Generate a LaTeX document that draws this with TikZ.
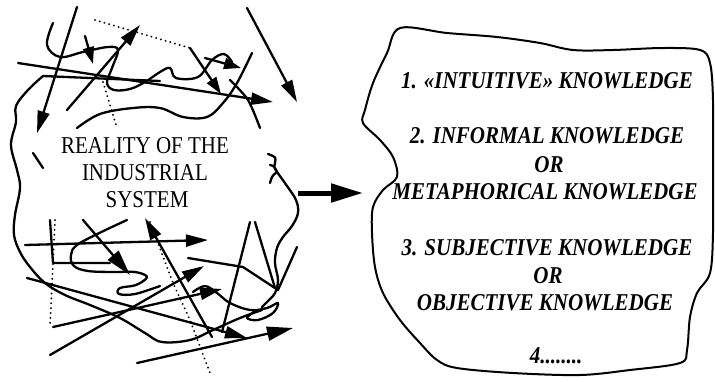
\documentclass[tikz,border=0pt]{standalone}
\usepackage{fontspec}
\usepackage{graphicx}
\setmainfont{Liberation Serif}
\usetikzlibrary{arrows.meta}
\newcommand\tallbox[1]{\scalebox{1}[1.15]{#1}}
\tikzset{
  sk/.style={line width=2.3pt, line cap=round, line join=round},
  arr/.style={sk, -{Triangle[length=22pt,width=12pt]}},
  bigarr/.style={sk, -{Triangle[length=26pt,width=14pt]}},
  smallarr/.style={sk, -{Triangle[length=17pt,width=11pt]}},
  dots/.style={line width=2pt, line cap=round, dash pattern=on 0.1pt off 4.8pt},
  blob/.style={line width=2pt, line join=round},
  leftlbl/.style={anchor=base, inner sep=0pt, font=\fontsize{21}{25}\selectfont},
  rightlbl/.style={anchor=base, inner sep=0pt, font=\bfseries\itshape\fontsize{21}{25}\selectfont},
}
\begin{document}
\begin{tikzpicture}[x=1pt,y=-1pt]
\useasboundingbox (0,0) rectangle (715,381);

% ---------- left scribble: reality of the industrial system ----------
% outline of the left blob
\draw[sk] plot[smooth, tension=0.6] coordinates {(43,76) (28,90) (16,106) (16,122) (11,145) (17,170) (20,188) (15,215) (14,235) (20,252) (30,267) (45,283) (65,295) (90,305) (120,318) (145,333) (162,342) (190,340) (213,330) (240,318) (262,310)};
\draw[sk] plot[smooth, tension=0.6] coordinates {(277,172) (287,186) (296,200) (298,213) (292,226) (283,237) (277,248) (275,263) (278,280) (275,293) (267,302) (262,307)};
\draw[sk] plot[smooth] coordinates {(230,80) (248,100) (260,128)};
% claw squiggle
\draw[sk] (268,154) .. controls (276,157) .. (275,163) .. controls (274,167) .. (277,172);
\draw[sk] (270,165) .. controls (274,166) .. (277,172);
\draw[sk] (270,183) .. controls (272,176) .. (277,172);
% small dash
\draw[sk] (33,153) -- (43,168);

% top strokes
\coordinate (s1a) at (77,7);   \coordinate (s1b) at (37,133);
\draw[arr] (s1a) -- (s1b);
\draw[sk] plot[smooth, tension=0.6] coordinates {(53,23) (47,45) (60,57) (83,52) (108,47) (118,50) (112,68) (107,83) (114,90) (130,89) (145,82) (160,72) (170,68) (176,78) (198,77) (212,60) (224,54) (232,62)};
\coordinate (s3a) at (85,36);  \coordinate (s3b) at (93,64);
\draw[smallarr] (s3a) -- (s3b);
\coordinate (s4a) at (67,110); \coordinate (s4b) at (140,25);
\draw[arr] (s4a) -- (s4b);
\coordinate (d1a) at (95,20);  \coordinate (d1b) at (190,48);
\draw[dots] (d1a) -- (d1b);
\coordinate (d2a) at (103,82); \coordinate (d2b) at (117,128);
\draw[dots] (d2a) -- (d2b);
\coordinate (s7a) at (18,63);  \coordinate (s7b) at (273,102);
\draw[arr] (s7a) -- (s7b);
\draw[sk] (43,76) -- (160,81);
\draw[sk] plot[smooth, tension=0.6] coordinates {(77,128) (100,114) (133,108) (160,108) (183,117) (207,117) (223,103) (237,83) (252,53)};
\coordinate (s10b) at (221,94);
\draw[smallarr] (d1b) -- (s10b);
\coordinate (s11a) at (205,58); \coordinate (s11b) at (241,68);
\draw[smallarr] (s11a) -- (s11b);
\coordinate (s13a) at (247,8); \coordinate (s13b) at (297,102);
\draw[arr] (s13a) -- (s13b);

% bottom strokes
\coordinate (b1a) at (25,245); \coordinate (b1b) at (208,240);
\draw[arr] (b1a) -- (b1b);
\draw[sk] (50,220) -- (53,263) -- (110,263);
\coordinate (d3a) at (55,220); \coordinate (d3b) at (50,327);
\draw[dots] (d3a) -- (d3b);
\draw[dots] (150,222) -- (173,283) -- (190,320) -- (210,373);
\coordinate (b5a) at (83,220); \coordinate (b5b) at (130,275);
\draw[bigarr] (b5a) -- (b5b);
\draw[sk] plot[smooth, tension=0.6] coordinates {(127,220) (80,243) (71,255) (74,266) (88,271) (113,272) (135,272) (147,277) (136,285) (120,288) (119,294) (135,294) (160,286)};
\coordinate (b7a) at (212,337); \coordinate (b7b) at (145,218);
\draw[arr] (b7a) -- (b7b);
\coordinate (b8a) at (27,278); \coordinate (b8b) at (247,338);
\draw[arr] (b8a) -- (b8b);
\coordinate (b9a) at (50,355); \coordinate (b9b) at (204,266);
\draw[arr] (b9a) -- (b9b);
\coordinate (b10a) at (53,327); \coordinate (b10b) at (222,289);
\draw[arr] (b10a) -- (b10b);
\coordinate (b11a) at (137,363); \coordinate (b11b) at (293,328);
\draw[bigarr] (b11a) -- (b11b);
\draw[sk] (188,258) -- (243,267) -- (278,290);
\draw[sk] (250,222) -- (222,332);
\draw[sk] (255,222) -- (275,288);
\draw[sk] (297,247) -- (278,290);
\draw[sk] plot[smooth, tension=0.6] coordinates {(193,292) (205,286) (217,293) (230,303) (250,310) (267,308) (278,303) (273,313) (258,320) (247,318) (254,312)};

% label of the left blob
\node[leftlbl] (l1) at (145,153) {\tallbox{REALITY OF THE}};
\node[leftlbl] (l2) at (145,180) {\tallbox{INDUSTRIAL}};
\node[leftlbl] (l3) at (147,207) {\tallbox{SYSTEM}};

% ---------- big arrow ----------
\coordinate (ba) at (298,193);
\coordinate (bb) at (363,193);
\draw[line width=5pt, -{Triangle[length=32pt,width=18pt]}] (ba) -- (bb);

% ---------- right blob: kinds of knowledge ----------
\draw[blob] plot[smooth cycle, tension=0.55] coordinates {(400,28) (447,33) (497,37) (540,43) (573,50) (613,50) (663,48) (700,50) (710,63) (713,100) (713,167) (713,233) (710,273) (697,293) (690,317) (687,350) (680,363) (630,370) (580,375) (513,373) (457,368) (437,360) (420,343) (400,320) (383,293) (375,267) (372,233) (373,207) (383,190) (397,177) (393,157) (380,140) (363,123) (365,110) (373,83) (387,53)};

\node[rightlbl] (k1) at (547,88)  {\tallbox{1. «INTUITIVE» KNOWLEDGE}};
\node[rightlbl] (k2) at (547,143) {\tallbox{2. INFORMAL KNOWLEDGE}};
\node[rightlbl] (k3) at (549,172) {\tallbox{OR}};
\node[rightlbl] (k4) at (545,199) {\tallbox{METAPHORICAL KNOWLEDGE}};
\node[rightlbl] (k5) at (547,255) {\tallbox{3. SUBJECTIVE KNOWLEDGE}};
\node[rightlbl] (k6) at (548,283) {\tallbox{OR}};
\node[rightlbl] (k7) at (545,310) {\tallbox{OBJECTIVE KNOWLEDGE}};
\node[rightlbl] (k8) at (556,363) {\tallbox{4........}};
\end{tikzpicture}
\end{document}
